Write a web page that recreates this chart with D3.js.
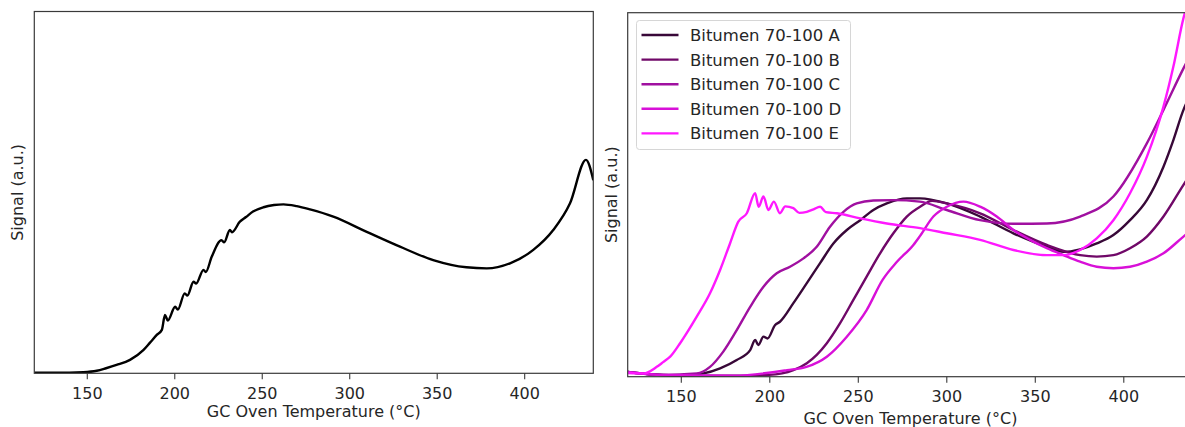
<!DOCTYPE html>
<html>
<head>
<meta charset="utf-8">
<script src="https://cdn.jsdelivr.net/npm/d3@7"></script>
<style>
  html, body { margin: 0; padding: 0; background: #fff; }
  svg { display: block; }
  text { font-family: "DejaVu Sans", sans-serif; fill: #262626; }
</style>
</head>
<body>
<svg id="chart" width="1185" height="427"></svg>
<script>
// ---------------- data ----------------
const xTicks = [150, 200, 250, 300, 350, 400];
const xLabel = "GC Oven Temperature (°C)";
const yLabel = "Signal (a.u.)";

// Left panel: single bitumen trace [temperature °C, signal a.u.]
const leftSeries = [
  [120,0.2],[140,0.2],[148,0.3],[155.7,0.7],[161,1.4],[167,2.3],[174.7,3.7],[182.3,6.4],
  [186,8.4],[190,10.6],[192.9,12.0],[194.7,16.1],[196.3,14.6],[200.5,18.4],[202,17.6],
  [206,22.1],[207.5,21.5],[211,25.3],[212.5,24.8],[216.7,28.6],[218,28.0],[221.4,32.2],
  [227,36.8],[228.5,36.2],[231.8,39.6],[233,39.0],[237.5,41.9],[241,43.2],[245,44.7],
  [251,45.9],[257,46.5],[262.4,46.7],[270,46.2],[277.6,45.3],[290.9,43.3],[310,39.1],
  [329,35.0],[348,31.3],[367,29.3],[378.6,29.0],[391.9,30.4],[405.2,34.1],[416.6,39.6],
  [426.2,47.0],[435.3,59.0],[439.5,53.4]
];

// Right panel series names and colours
const seriesNames = ["Bitumen 70-100 A","Bitumen 70-100 B","Bitumen 70-100 C","Bitumen 70-100 D","Bitumen 70-100 E"];
const seriesColors = ["#380838","#700868","#a010a0","#d810d8","#ff18ff"];

const seriesA = [
  [120,1.3],[135,0.6],[150,0.3],[162.8,0.9],[172.2,2.3],[181.6,4.6],[189.2,7.3],[192,10.1],
  [193.8,8.7],[196.7,11.0],[199,10.5],[203.3,14.2],[206,15.1],[213.6,20.2],[221.2,25.7],
  [228.7,31.2],[236.2,36.6],[243.8,40.3],[251.4,43.0],[258.8,45.8],[266.4,47.6],[277.7,49.0],
  [285.2,49.0],[300.3,47.6],[319.1,44.0],[337.9,39.4],[356.8,35.7],[366.2,34.3],[375.6,35.0],
  [385,36.6],[394.4,38.9],[403.8,43.0],[413.3,48.5],[422.7,57.7],[428.3,65.0],[434,73.3],[436,75.5]
];
const seriesB = [
  [120,1.3],[135,0.6],[150,0.3],[180,0.3],[200,0.5],[213.6,1.8],[221.2,3.7],[226.8,6.0],
  [232.5,9.2],[240,14.7],[247.5,21.1],[255,27.5],[262.6,33.9],[270.1,39.4],[277.7,44.0],
  [285.2,46.7],[292,48.3],[300.3,47.6],[319.1,44.9],[337.9,40.3],[356.8,36.2],[375.6,33.4],
  [385,33.0],[394.4,33.4],[403.8,35.3],[413.3,38.5],[422.7,44.0],[434,52.7],[436,54.2]
];
const seriesC = [
  [120,1.3],[140,0.5],[159,0.9],[166.5,2.7],[174,6.9],[181.6,12.8],[189.2,19.2],[196.7,24.7],
  [204.2,28.4],[211.7,30.2],[219.3,32.5],[226.8,35.7],[234.3,41.2],[241.9,45.3],[249.4,47.6],
  [258.8,48.4],[270,48.5],[285,48.1],[300.3,45.8],[319.1,43.0],[337.9,42.0],[356.8,42.1],
  [375.6,44.0],[394.4,49.5],[413.3,64.1],[422.7,73.3],[434,84.7],[436,86.6]
];
const seriesD = [
  [120,1.3],[140,0.5],[180,0.3],[210,1.8],[221,2.7],[232.5,5.5],[243.8,11.0],[255,18.3],
  [264,26.6],[272,31.5],[281.4,36.2],[285.2,38.7],[292.7,44.0],[300.3,46.7],[309.7,48.1],
  [319.1,46.7],[328.5,44.0],[337.9,40.3],[347.3,37.6],[356.8,35.3],[366.2,33.4],[375.6,31.6],
  [385,30.2],[394.4,29.8],[403.8,30.2],[413.3,31.6],[422.7,33.9],[434,38.5],[436,39.3]
];
const seriesE = [
  [120,1.0],[125,0.9],[129,0.9],[136.4,2.7],[140,4.0],[144,5.5],[149.6,9.2],[159,16.5],
  [166.5,22.9],[172.2,29.3],[177.8,36.6],[182.5,42.6],[187.3,44.9],[192,50.4],[194,46.7],
  [196.7,49.5],[199.5,45.8],[202.6,48.1],[206,44.9],[209,46.8],[213.6,46.3],[217,45.0],
  [221.2,45.3],[225,46.0],[228.7,46.7],[232,45.2],[238.2,44.9],[251.4,43.5],[266.4,42.1],
  [285.2,40.8],[300.3,39.4],[319.1,37.6],[337.9,34.8],[356.8,33.4],[366.2,33.4],[375.6,34.8],
  [385,38.0],[394.4,43.0],[403.8,50.4],[413.3,60.4],[422.7,74.2],[428.3,85.2],[434,98.5],[436,102]
];
const rightSeries = [seriesA, seriesB, seriesC, seriesD, seriesE];

// ---------------- drawing ----------------
const svg = d3.select("#chart");
const xDomain = [120, 439.5];
const yDomain = [0, 100];

function panel(opts) {
  const g = svg.append("g");
  const x = d3.scaleLinear().domain(xDomain).range([opts.left, opts.right]);
  const y = d3.scaleLinear().domain(yDomain).range([opts.bottom, opts.top]);
  const clipId = "clip" + opts.id;
  svg.append("clipPath").attr("id", clipId).append("rect")
    .attr("x", opts.left).attr("y", opts.top)
    .attr("width", opts.right - opts.left).attr("height", opts.bottom - opts.top);

  const line = d3.line().x(d => x(d[0])).y(d => y(d[1])).curve(d3.curveMonotoneX);
  const plot = g.append("g").attr("clip-path", `url(#${clipId})`);
  opts.series.forEach((s, i) => {
    plot.append("path").datum(s)
      .attr("fill", "none")
      .attr("stroke", opts.colors[i])
      .attr("stroke-width", 2.4)
      .attr("stroke-linejoin", "round")
      .attr("d", line);
  });

  // frame
  g.append("rect")
    .attr("x", opts.left).attr("y", opts.top)
    .attr("width", opts.right - opts.left).attr("height", opts.bottom - opts.top)
    .attr("fill", "none").attr("stroke", "#3a3a3a").attr("stroke-width", 1.2);

  // x axis
  const ax = g.append("g").attr("transform", `translate(0,${opts.bottom})`)
    .call(d3.axisBottom(x).tickValues(xTicks).tickSize(6).tickPadding(8).tickFormat(d3.format("d")));
  ax.select(".domain").remove();
  ax.selectAll(".tick line").attr("stroke", "#3a3a3a").attr("stroke-width", 1.1);
  ax.selectAll(".tick text").attr("font-size", 16).attr("font-family", "DejaVu Sans").attr("fill", "#262626");

  g.append("text")
    .attr("x", (opts.left + opts.right) / 2)
    .attr("y", opts.bottom + opts.labelOffset)
    .attr("text-anchor", "middle")
    .attr("font-size", 16)
    .text(xLabel);

  g.append("text")
    .attr("transform", `translate(${opts.left - 11},${(opts.top + opts.bottom) / 2}) rotate(-90)`)
    .attr("text-anchor", "middle")
    .attr("font-size", 16)
    .text(yLabel);
  return {x, y, g};
}

panel({id: "L", left: 34.3, right: 593.3, top: 11.5, bottom: 373.3, labelOffset: 44,
       series: [leftSeries], colors: ["#000000"]});
panel({id: "R", left: 627.7, right: 1193.2, top: 12.7, bottom: 376.7, labelOffset: 47,
       series: rightSeries, colors: seriesColors});

// legend
const lg = svg.append("g").attr("transform", "translate(636.5,20.5)");
lg.append("rect").attr("width", 214).attr("height", 129).attr("rx", 3)
  .attr("fill", "rgba(255,255,255,0.85)").attr("stroke", "#d6d6d6").attr("stroke-width", 1);
seriesNames.forEach((name, i) => {
  const cy = 14.5 + i * 24.6;
  lg.append("line").attr("x1", 5).attr("x2", 42).attr("y1", cy).attr("y2", cy)
    .attr("stroke", seriesColors[i]).attr("stroke-width", 2.4);
  lg.append("text").attr("x", 53.5).attr("y", cy).attr("dy", "0.36em")
    .attr("font-size", 16.5).text(name);
});
</script>
</body>
</html>
